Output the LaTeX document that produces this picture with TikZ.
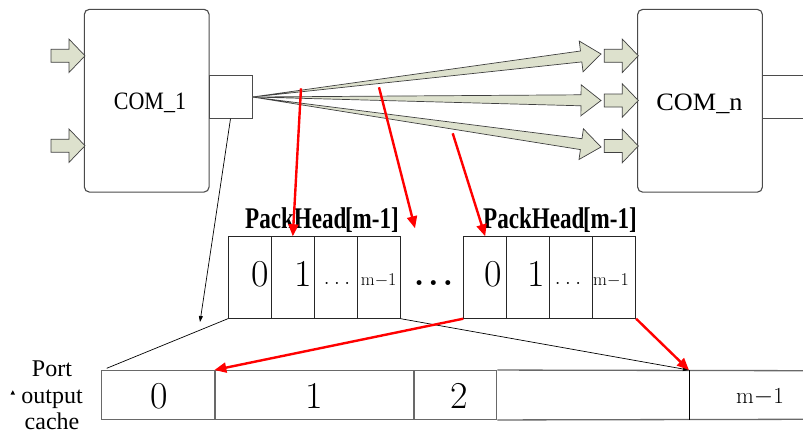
\documentclass[tikz,border=0pt]{standalone}
\usepackage{fontspec}
\newfontfamily\tnr{Liberation Serif}
\usetikzlibrary{calc,arrows.meta}
\definecolor{arrowfill}{RGB}{221,225,205}
\definecolor{boxline}{RGB}{75,75,75}
\definecolor{cacheline}{RGB}{105,105,105}

% tapered block arrow from a point (#1) to a tip (#2)
\newcommand\fanarrow[2]{%
  \coordinate (hb) at ($(#2)!20pt!(#1)$);
  \draw[blockarr] (#1) -- ($(hb)!5.5pt!90:(#2)$) -- ($(hb)!15.5pt!90:(#2)$)
    -- (#2) -- ($(hb)!15.5pt!-90:(#2)$) -- ($(hb)!5.5pt!-90:(#2)$) -- cycle;}

\begin{document}
\begin{tikzpicture}[x=1pt,y=-1pt,
  com/.style={draw=boxline, line width=1.1pt, rounded corners=5pt,
    minimum width=124.7pt, minimum height=182.7pt, inner sep=0pt},
  portbox/.style={draw=boxline, line width=0.9pt, minimum width=43pt,
    minimum height=42.6pt, inner sep=0pt},
  blockarr/.style={draw=black!75, line width=0.7pt, fill=arrowfill, line join=miter},
  cell/.style={draw=black!85, line width=0.8pt, minimum width=43pt,
    minimum height=81.6pt, inner sep=0pt},
  cache/.style={draw=cacheline, line width=1.3pt, minimum height=48.6pt, inner sep=0pt},
  redarr/.style={draw=red, line width=2.4pt, -{Triangle[length=12pt,width=10pt]}},
  guide/.style={draw=black, line width=0.7pt},
  guidearr/.style={guide, -{Triangle[length=6pt,width=4pt]}},
  comlbl/.style={font=\tnr\fontsize{25}{27}\selectfont, inner sep=0pt, anchor=base},
  packlbl/.style={font=\tnr\bfseries\fontsize{30}{32}\selectfont, inner sep=0pt, anchor=base},
  bigdigit/.style={font=\fontsize{38}{40}\selectfont, inner sep=0pt, anchor=base},
  smalltxt/.style={font=\fontsize{18}{20}\selectfont, inner sep=0pt, anchor=base},
  pics/inarrow/.style={code={
    \draw[blockarr] (-34,-6.5) -- (-16,-6.5) -- (-16,-16.7) -- (0,0)
      -- (-16,16.7) -- (-16,6.5) -- (-34,6.5) -- cycle;}}]
\useasboundingbox (0,0) rectangle (803,436);

% components and their ports
\node[com] (com1) at (146.7,100.7) {};
\node[com] (comn) at (700,100.8) {};
\node[comlbl] (com1lbl) at (150,109.5) {\scalebox{0.88}[1]{COM\_1}};
\node[comlbl] (comnlbl) at (699.5,110.5) {\scalebox{1.05}[1]{COM\_n}};
\node[portbox] (port) at (230.5,97) {};
\draw[boxline, line width=0.9pt] (comn.east |- port.north) -- ++(42,0)
  (comn.east |- port.south) -- ++(42,0);

% inputs
\pic at (85,55.8) {inarrow};
\pic at (85,145.7) {inarrow};
\pic at (638.3,55.8) {inarrow};
\pic at (638.3,100.5) {inarrow};
\pic at (638.3,146) {inarrow};

% fan-out from the output port
\coordinate (ft1) at (601,54);
\coordinate (ft2) at (601,100.5);
\coordinate (ft3) at (601,147);
\fanarrow{port.east}{ft1}
\fanarrow{port.east}{ft2}
\fanarrow{port.east}{ft3}

% packet head buffers
\foreach \i in {0,...,3} {
  \node[cell] (a\i) at ({249.8+43*\i},277.5) {};
  \node[cell] (b\i) at ({485.2+43*\i},277.5) {};
}
\node[packlbl] (pha) at (322,228.5) {\scalebox{0.77}[1]{PackHead\kern-2pt[m-1]}};
\node[packlbl] (phb) at (560,228.5) {\scalebox{0.77}[1]{PackHead\kern-2pt[m-1]}};

\node[bigdigit] (a0t) at (260.5,286.5) {0};
\node[bigdigit] (a1t) at (303.7,286.5) {1};
\node[font=\fontsize{25}{27}\selectfont, inner sep=0pt, anchor=base] (a2t) at (337,284.5) {.\kern4pt.\kern4pt.};
\node[smalltxt] (a3t) at (378.7,285.7) {m$-$1};
\node[bigdigit] (b0t) at (493,286.5) {0};
\node[bigdigit] (b1t) at (535.8,286.5) {1};
\node[font=\fontsize{25}{27}\selectfont, inner sep=0pt, anchor=base] (b2t) at (568,284.5) {.\kern4pt.\kern4pt.};
\node[smalltxt] (b3t) at (611,285.7) {m$-$1};
\node[font=\bfseries\fontsize{34}{36}\selectfont, inner sep=0pt, anchor=base] (gap) at (433.5,285.5) {.\kern3.7pt.\kern3.7pt.};

% port output cache
\node[cache, minimum width=113.3pt] (c0) at (158.35,395) {};
\node[cache, minimum width=199pt] (c1) at (314.5,395) {};
\node[cache, minimum width=82.7pt] (c2) at (455.35,395) {};
\node[cache, minimum width=191.6pt, draw=none] (c3) at (592.5,395) {};
\draw[cacheline, line width=1.3pt] (c2.north east) -- (803,370.7)
  (c2.south east) -- (803,419.3);
\draw[black, line width=0.8pt] (c3.north east) -- (c3.south east);
\node[bigdigit] (c0t) at (159.2,408.3) {0};
\node[bigdigit] (c1t) at (314.7,408.3) {1};
\node[bigdigit] (c2t) at (459.2,408.3) {2};
\node[font=\fontsize{23}{25}\selectfont, inner sep=0pt, anchor=base] (c4t) at (760,403.3) {m$-$1};

\node[font=\tnr\fontsize{24}{26.5}\selectfont, align=center, inner sep=0pt, anchor=north] (cachelbl) at (52,361) {Port\\output\\cache};
\fill (10.5,394.5) -- (15,394.5) -- (12.8,390.3) -- cycle;

% thin guide lines
\coordinate (k1) at (200,322);
\coordinate (k2) at (106.7,368.3);
\draw[guidearr] (port.south) -- (k1);
\draw[guide] (a0.south west) -- (k2);
\draw[guidearr] (a3.south east) -- (c3.north east);

% red pointers
\coordinate (r1) at (301,88.3);
\coordinate (r2) at (379,87.3);
\coordinate (r2e) at (415,228.3);
\coordinate (r3) at (452.7,133.3);
\draw[redarr] (r1) -- (a1.north);
\draw[redarr] (r2) -- (r2e);
\draw[redarr] (r3) -- (b0.north);
\draw[redarr] (b0.south west) -- (c1.north west);
\draw[redarr] (b3.south east) -- (c3.north east);
\end{tikzpicture}
\end{document}
